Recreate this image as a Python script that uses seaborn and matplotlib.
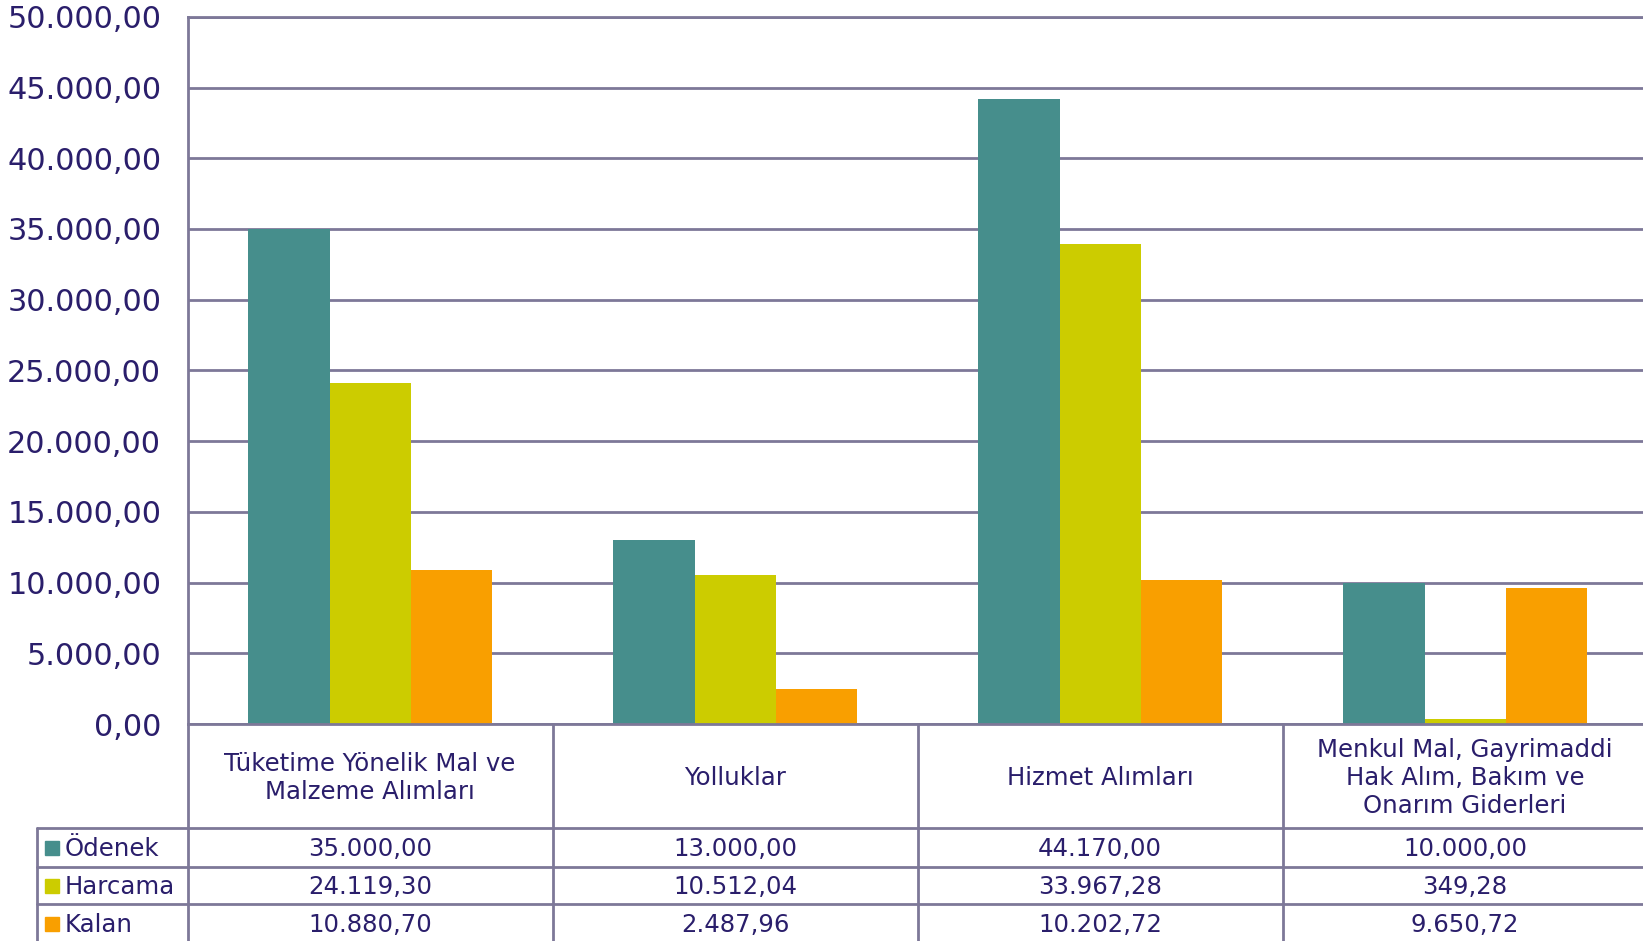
import matplotlib
matplotlib.use("Agg")
import matplotlib.pyplot as plt
import matplotlib.transforms as mtransforms
from matplotlib.lines import Line2D
import pandas as pd
import seaborn as sns

# data
categories = [
    "Tüketime Yönelik Mal ve\nMalzeme Alımları",
    "Yolluklar",
    "Hizmet Alımları",
    "Menkul Mal, Gayrimaddi\nHak Alım, Bakım ve\nOnarım Giderleri",
]
series = ["Ödenek", "Harcama", "Kalan"]
odenek = [35000.00, 13000.00, 44170.00, 10000.00]
harcama = [24119.30, 10512.04, 33967.28, 349.28]
kalan = [10880.70, 2487.96, 10202.72, 9650.72]
yticks = list(range(0, 50001, 5000))

colors = ["#468E8C", "#CCCC00", "#F99F00"]
grid_col = "#7D7898"
txt_col = "#2A1E6B"


def tr_fmt(v):
    s = f"{v:,.2f}"
    return s.replace(",", "X").replace(".", ",").replace("X", ".")


df = pd.DataFrame({
    "kategori": categories * 3,
    "seri": [s for s in series for _ in categories],
    "deger": odenek + harcama + kalan,
})

sns.set_theme(style="white")
plt.rcParams["font.family"] = ["DejaVu Sans"]

W, H = 1643, 941
fig = plt.figure(figsize=(W / 100, H / 100), dpi=100)
# plot area runs slightly past the right edge, as in the original
ax = fig.add_axes([187.6 / W, 1 - 724 / H, 1460 / W, (724 - 16.8) / H])

sns.barplot(data=df, x="kategori", y="deger", hue="seri", order=categories,
            hue_order=series, palette=colors, saturation=1, width=0.667,
            gap=0, linewidth=0, legend=False, ax=ax)

ax.set_xlim(-0.5, 3.5)
ax.set_ylim(0, 50000)
ax.set_yticks(yticks)
ax.set_yticklabels([tr_fmt(v) for v in yticks])
ax.set_xticks([])
ax.set_xlabel("")
ax.set_ylabel("")
ax.yaxis.grid(True, color=grid_col, linewidth=2)
ax.set_axisbelow(True)
for side in ["left", "bottom", "top"]:
    ax.spines[side].set_visible(True)
    ax.spines[side].set_color(grid_col)
    ax.spines[side].set_linewidth(2)
ax.spines["right"].set_visible(False)
ax.tick_params(axis="y", length=0, pad=19, labelsize=21.9, labelcolor=txt_col)

# data table under the chart
trans = mtransforms.blended_transform_factory(ax.transData, fig.transFigure)


def fy(px):
    return 1 - px / H


for xb in [-0.5, 0.5, 1.5, 2.5]:
    fig.add_artist(Line2D([xb, xb], [fy(724), 0], transform=trans,
                          color=grid_col, lw=2))
fig.add_artist(Line2D([36.7 / W, 36.7 / W], [fy(828), 0],
                      transform=fig.transFigure, color=grid_col, lw=2))
for yl in [828, 866.5, 904]:
    fig.add_artist(Line2D([36.7 / W, 1], [fy(yl), fy(yl)],
                          transform=fig.transFigure, color=grid_col, lw=2))

fs = 17.6
for i, cat in enumerate(categories):
    ax.text(i, fy(778), cat, transform=trans, ha="center", va="center",
            fontsize=fs, color=txt_col, linespacing=1.2)

row_y = [849, 887, 925]
values = [odenek, harcama, kalan]
for r, (name, vals, col) in enumerate(zip(series, values, colors)):
    fig.add_artist(Line2D([51.5 / W], [fy(row_y[r] - 1)], transform=fig.transFigure,
                          marker="s", markersize=10, color=col, lw=0))
    fig.text(65 / W, fy(row_y[r]), name, ha="left", va="center",
             fontsize=fs, color=txt_col)
    for i, v in enumerate(vals):
        ax.text(i, fy(row_y[r]), tr_fmt(v), transform=trans, ha="center",
                va="center", fontsize=fs, color=txt_col)

fig.savefig("out.png", dpi=100)
